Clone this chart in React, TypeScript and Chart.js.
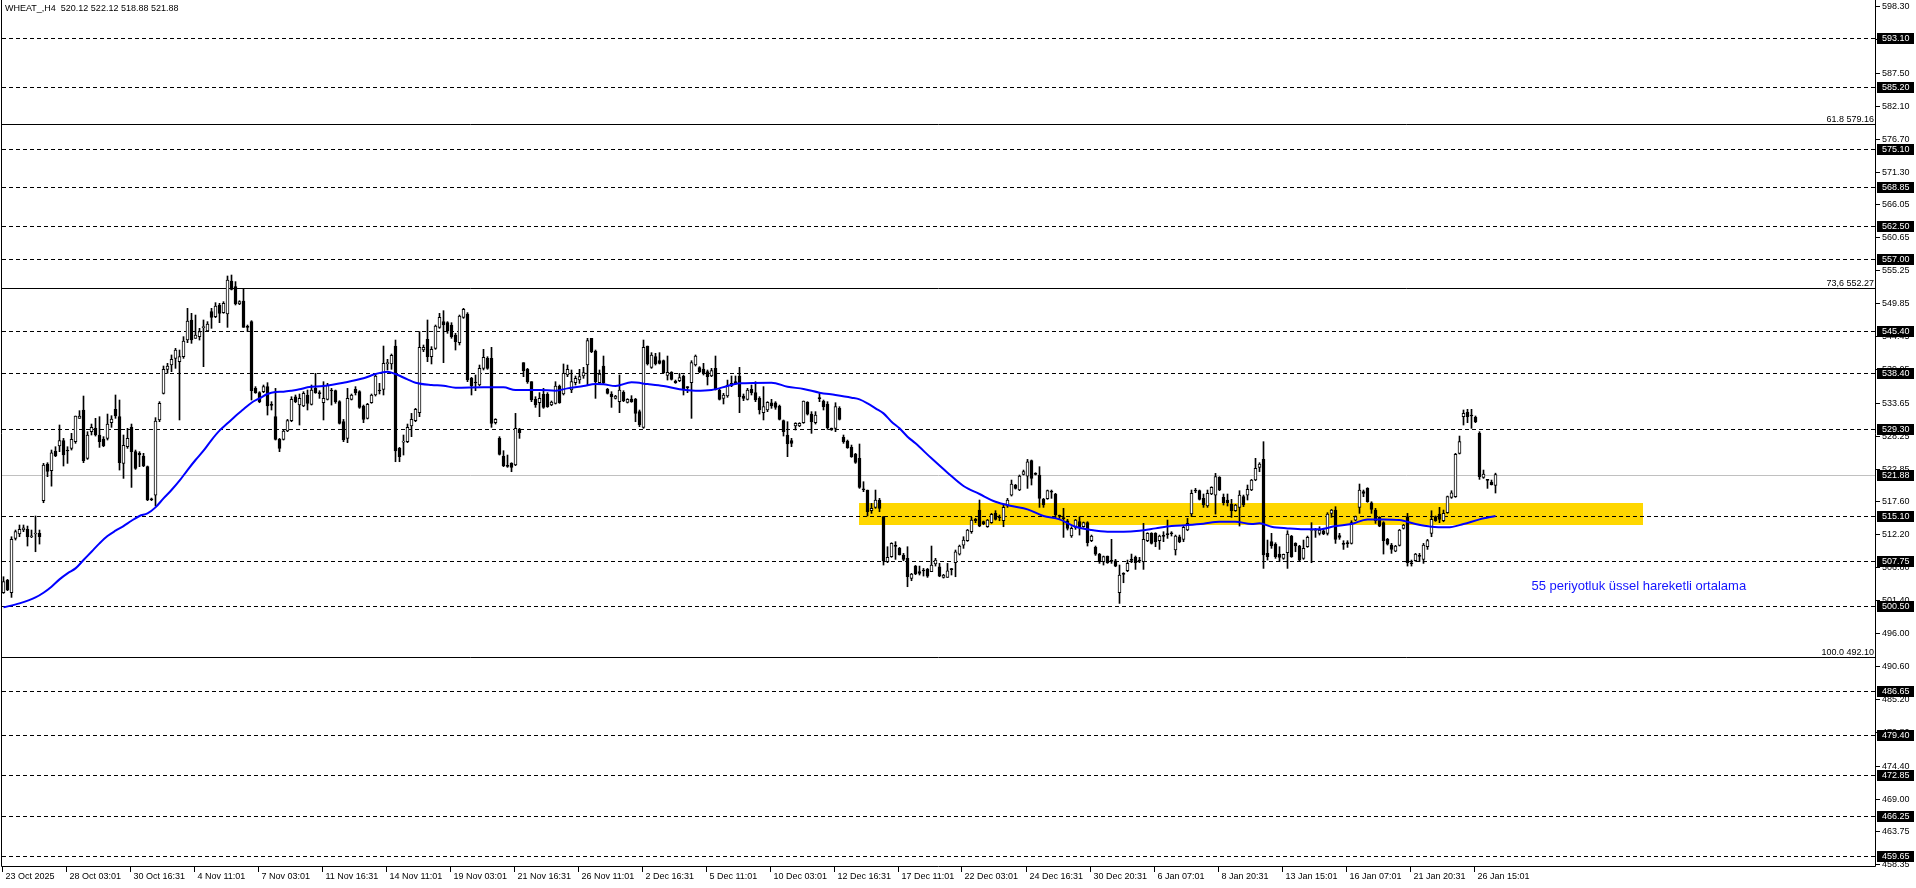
import { useEffect, useRef } from 'react';
import { Chart, registerables } from 'chart.js';

Chart.register(...registerables);

// ---- DATA (H4 candles) ----
const opens = [
  502.61, 504.68, 502.61, 511.48, 512.19, 512.84, 512.95, 511.75, 512.19, 512.30,
  517.63, 523.61, 522.53, 525.74, 526.55, 527.42, 525.79, 526.17, 527.26, 531.07,
  532.43, 524.54, 528.89, 529.44, 528.35, 527.69, 527.80, 530.36, 532.54, 531.34,
  523.72, 526.44, 529.60, 525.63, 525.36, 524.92, 523.18, 517.90, 518.55, 530.80,
  535.15, 539.07, 539.77, 540.86, 540.32, 541.13, 543.85, 547.12, 544.13, 544.40,
  545.87, 545.32, 548.48, 547.66, 549.57, 548.32, 548.10, 553.48, 552.56, 549.73,
  550.22, 545.98, 546.85, 535.96, 535.26, 535.42, 536.24, 533.30, 531.34, 527.64,
  527.64, 529.00, 530.69, 534.60, 533.24, 533.08, 534.88, 533.35, 535.96, 535.20,
  533.62, 534.17, 535.64, 535.58, 533.79, 530.52, 527.80, 534.17, 535.80, 535.42,
  533.08, 531.07, 533.62, 534.88, 535.64, 535.80, 539.99, 539.94, 542.87, 526.17,
  527.20, 527.26, 529.82, 530.69, 531.99, 542.22, 543.96, 541.13, 542.49, 545.92,
  546.85, 546.68, 546.30, 544.67, 543.42, 547.55, 548.10, 537.60, 536.94, 536.51,
  539.23, 540.86, 540.86, 530.36, 527.80, 524.92, 523.34, 523.72, 523.45, 529.27,
  540.15, 539.07, 537.05, 534.17, 533.62, 534.99, 534.99, 533.24, 533.52, 536.35,
  535.04, 538.14, 535.69, 536.89, 537.32, 537.98, 539.77, 544.13, 542.06, 536.89,
  539.61, 535.80, 535.04, 534.33, 533.79, 535.31, 533.68, 534.22, 534.22, 532.16,
  529.60, 542.87, 539.39, 541.13, 540.48, 540.48, 538.09, 538.58, 537.16, 537.22,
  537.98, 536.18, 536.89, 539.77, 539.34, 539.12, 538.69, 537.98, 539.23, 535.69,
  534.33, 534.71, 536.35, 537.05, 537.98, 534.71, 534.17, 535.80, 535.26, 534.33,
  531.99, 532.43, 533.62, 533.62, 533.08, 530.69, 528.35, 527.42, 529.82, 529.82,
  530.36, 533.68, 531.77, 530.36, 534.39, 533.90, 533.41, 529.44, 529.44, 532.70,
  527.96, 527.37, 526.33, 525.25, 524.54, 519.53, 519.37, 516.00, 516.54, 517.74,
  515.02, 507.67, 508.49, 510.28, 509.85, 508.76, 508.22, 504.95, 506.96, 506.04,
  506.26, 506.42, 506.04, 507.29, 506.85, 505.11, 505.11, 506.47, 507.51, 508.92,
  510.39, 511.10, 512.57, 514.58, 516.10, 514.20, 513.38, 514.04, 515.56, 514.96,
  514.36, 516.76, 518.55, 520.19, 519.37, 521.93, 521.65, 524.16, 522.04, 521.82,
  517.85, 517.96, 519.15, 518.72, 515.18, 514.80, 514.36, 511.86, 513.28, 514.20,
  513.38, 514.04, 511.10, 510.01, 508.92, 507.67, 508.60, 507.83, 507.83, 502.61,
  505.71, 506.20, 507.99, 508.38, 507.89, 507.67, 511.10, 512.30, 512.30, 511.10,
  511.92, 512.19, 512.35, 509.58, 511.75, 511.32, 512.84, 515.45, 519.31, 519.26,
  518.01, 516.76, 518.72, 518.55, 521.44, 518.17, 517.74, 517.08, 515.99, 516.54,
  518.28, 518.55, 519.37, 521.00, 523.07, 524.37, 509.03, 510.94, 510.55, 508.92,
  508.22, 509.14, 511.86, 510.66, 510.23, 508.22, 510.12, 512.79, 512.79, 512.30,
  512.73, 512.30, 515.56, 516.10, 511.92, 510.61, 510.72, 510.66, 514.47, 516.54,
  519.10, 519.64, 517.30, 516.10, 514.91, 514.04, 511.32, 510.39, 509.41, 510.34,
  513.11, 515.02, 507.45, 507.83, 508.65, 508.05, 510.12, 512.30, 515.02, 515.45,
  514.36, 515.67, 518.17, 518.28, 525.36, 531.34, 532.05, 531.56, 531.23, 528.62,
  521.44, 521.06, 520.67, 520.12,
];

const highs = [
  505.22, 504.79, 511.75, 512.84, 513.66, 513.66, 513.49, 512.84, 515.13, 512.84,
  523.72, 523.83, 525.90, 526.44, 529.98, 527.80, 526.44, 528.62, 531.45, 532.32,
  534.71, 528.89, 530.14, 531.07, 531.34, 528.08, 531.77, 531.50, 534.88, 534.06,
  528.35, 529.44, 530.14, 525.90, 525.63, 525.36, 523.29, 518.06, 531.18, 533.79,
  539.61, 540.05, 541.41, 542.49, 542.22, 544.40, 549.02, 548.21, 547.93, 545.76,
  547.12, 546.85, 549.02, 549.95, 549.84, 550.11, 554.30, 554.46, 553.38, 550.27,
  552.29, 546.30, 547.01, 536.24, 535.42, 536.51, 536.89, 533.79, 535.96, 527.80,
  529.16, 530.90, 534.60, 534.88, 535.04, 535.42, 535.69, 536.51, 538.41, 535.58,
  537.05, 536.78, 535.96, 535.69, 533.95, 530.90, 535.96, 535.04, 536.24, 535.58,
  533.24, 533.52, 535.04, 538.30, 536.78, 542.87, 540.70, 541.57, 543.85, 526.33,
  528.35, 530.14, 531.88, 532.70, 545.21, 543.04, 547.12, 542.77, 546.30, 548.21,
  548.64, 546.85, 546.68, 544.94, 547.93, 549.02, 548.32, 537.76, 538.14, 539.77,
  542.33, 541.13, 542.66, 531.01, 528.08, 525.79, 525.08, 523.83, 531.88, 529.44,
  540.15, 539.23, 537.05, 534.60, 535.26, 535.96, 535.26, 533.90, 537.05, 536.51,
  539.94, 539.77, 538.96, 537.98, 539.07, 539.39, 544.13, 544.13, 542.22, 538.96,
  541.24, 535.96, 535.42, 534.82, 538.14, 535.58, 534.28, 534.77, 534.33, 532.43,
  543.85, 542.87, 541.79, 541.68, 541.79, 540.59, 541.24, 538.69, 537.32, 538.41,
  538.14, 536.24, 540.48, 541.41, 539.50, 540.05, 538.96, 539.23, 541.24, 535.80,
  535.15, 537.32, 537.98, 537.98, 539.39, 535.04, 535.96, 536.51, 537.05, 534.60,
  536.24, 533.79, 534.17, 533.79, 533.24, 530.80, 530.52, 527.80, 530.36, 530.36,
  533.90, 533.79, 532.16, 532.16, 535.15, 534.06, 533.79, 529.49, 533.62, 532.97,
  528.35, 527.53, 526.71, 525.36, 526.88, 520.73, 519.37, 517.19, 519.37, 518.01,
  515.02, 510.12, 510.77, 510.94, 510.01, 509.03, 510.12, 505.77, 507.07, 506.96,
  506.58, 506.58, 510.23, 508.22, 507.40, 505.61, 507.40, 506.58, 509.58, 510.39,
  511.75, 512.95, 514.91, 514.74, 517.74, 514.31, 514.58, 515.56, 516.00, 515.29,
  516.92, 518.01, 521.00, 520.29, 521.82, 522.63, 524.37, 524.27, 522.20, 523.18,
  518.01, 519.37, 519.37, 518.83, 515.29, 516.38, 514.58, 513.38, 514.58, 515.02,
  514.15, 514.20, 512.02, 510.23, 509.03, 508.60, 508.60, 511.32, 508.05, 507.13,
  505.88, 507.94, 508.92, 508.60, 508.38, 513.93, 512.41, 512.41, 512.41, 512.02,
  512.57, 514.47, 512.57, 512.02, 512.02, 513.49, 514.74, 519.37, 519.64, 519.37,
  518.72, 519.37, 519.91, 522.09, 521.55, 518.72, 518.72, 517.85, 517.03, 519.26,
  518.55, 520.19, 521.11, 524.54, 523.83, 527.26, 511.21, 512.30, 510.77, 510.12,
  508.92, 512.73, 511.97, 510.77, 510.34, 511.21, 511.86, 514.04, 513.11, 513.38,
  512.84, 515.67, 516.21, 516.65, 512.30, 511.10, 511.10, 514.36, 515.13, 520.35,
  519.37, 519.75, 517.46, 516.38, 515.02, 514.20, 511.48, 510.66, 510.34, 512.95,
  513.77, 515.56, 507.94, 509.03, 509.03, 510.66, 511.32, 515.99, 515.13, 516.54,
  516.10, 518.39, 519.26, 525.36, 528.18, 532.43, 532.54, 532.54, 531.45, 528.89,
  522.63, 521.11, 521.00, 522.12,
];

const lows = [
  502.50, 502.94, 501.85, 511.21, 511.75, 512.57, 510.23, 511.59, 509.30, 510.55,
  517.30, 521.55, 520.00, 524.81, 525.63, 523.29, 523.72, 525.90, 526.99, 531.07,
  523.83, 524.37, 528.35, 528.18, 526.33, 526.44, 527.53, 529.60, 531.07, 522.63,
  521.27, 526.17, 519.80, 522.74, 523.18, 523.18, 517.63, 517.63, 516.76, 530.52,
  535.04, 538.41, 538.69, 539.23, 530.80, 540.86, 543.42, 543.31, 544.13, 543.85,
  539.50, 545.21, 545.76, 547.50, 546.68, 548.21, 545.92, 552.02, 549.57, 549.62,
  545.92, 545.21, 534.06, 535.15, 533.62, 535.26, 531.61, 532.43, 527.53, 525.63,
  527.53, 528.89, 530.52, 533.62, 529.98, 532.97, 532.43, 533.24, 535.15, 534.33,
  530.80, 534.06, 533.24, 533.52, 530.14, 527.26, 527.10, 534.06, 534.88, 532.70,
  530.36, 530.96, 533.52, 534.71, 535.04, 534.88, 538.96, 539.07, 523.99, 523.99,
  525.08, 527.10, 528.08, 530.52, 531.34, 541.95, 540.32, 539.94, 542.33, 545.76,
  540.15, 544.94, 544.13, 542.22, 543.04, 547.39, 537.05, 534.88, 535.58, 536.35,
  538.96, 539.07, 529.60, 530.14, 525.08, 523.18, 523.07, 522.36, 523.34, 527.80,
  537.87, 536.78, 533.79, 532.86, 531.34, 532.70, 532.86, 533.13, 533.41, 533.52,
  534.88, 537.87, 535.26, 536.51, 536.78, 537.60, 536.51, 541.79, 534.33, 536.78,
  536.67, 535.04, 532.86, 534.22, 531.99, 533.79, 533.57, 533.68, 530.52, 529.71,
  529.44, 539.77, 539.23, 539.77, 539.94, 538.41, 537.32, 537.32, 536.78, 537.05,
  534.88, 535.26, 531.07, 539.61, 538.52, 538.14, 536.51, 537.87, 535.69, 534.06,
  533.41, 534.50, 536.24, 536.56, 531.99, 533.95, 534.06, 534.88, 533.79, 531.77,
  530.80, 532.16, 532.70, 532.54, 530.80, 528.18, 524.81, 526.44, 529.16, 529.71,
  530.25, 531.61, 528.62, 530.14, 533.79, 532.43, 529.27, 529.11, 528.89, 530.80,
  526.99, 526.17, 524.70, 523.72, 519.64, 519.10, 515.13, 515.56, 516.38, 515.83,
  507.13, 507.51, 508.38, 508.05, 508.76, 507.83, 503.59, 504.57, 505.55, 505.50,
  505.33, 505.11, 506.04, 506.96, 505.22, 505.00, 505.11, 505.50, 505.22, 508.76,
  509.85, 510.99, 512.30, 514.04, 513.38, 513.71, 513.28, 513.93, 514.47, 514.36,
  513.38, 516.54, 518.39, 519.53, 519.26, 521.82, 519.64, 520.19, 521.82, 516.54,
  516.54, 517.85, 518.01, 514.74, 514.74, 511.64, 512.84, 511.64, 512.95, 512.02,
  513.28, 510.23, 510.94, 508.70, 507.40, 507.13, 507.40, 507.40, 506.85, 500.87,
  504.24, 506.04, 507.51, 506.42, 507.51, 506.42, 510.94, 510.55, 510.12, 509.68,
  510.94, 511.48, 511.86, 508.76, 510.77, 510.94, 512.73, 515.02, 518.93, 517.74,
  516.54, 516.54, 518.61, 515.45, 519.26, 516.92, 516.76, 514.91, 515.89, 513.49,
  516.65, 517.74, 519.26, 520.89, 522.36, 506.58, 507.94, 509.85, 508.22, 507.67,
  508.05, 506.58, 508.38, 509.30, 507.83, 508.05, 510.01, 507.51, 511.64, 512.02,
  512.08, 512.02, 514.91, 510.66, 511.32, 509.68, 510.01, 510.55, 514.36, 515.56,
  518.28, 517.36, 515.56, 513.93, 513.38, 508.92, 510.39, 509.03, 509.30, 510.23,
  513.00, 506.96, 506.96, 507.73, 507.67, 507.40, 509.68, 511.75, 514.25, 514.04,
  514.20, 515.56, 518.01, 518.17, 525.25, 529.98, 530.36, 529.44, 530.36, 521.11,
  521.27, 519.64, 520.19, 518.88,
];

const closes = [
  504.41, 503.05, 511.32, 512.57, 512.95, 513.22, 511.75, 511.86, 512.35, 511.75,
  523.45, 522.42, 525.46, 524.92, 527.42, 525.08, 525.74, 527.64, 531.45, 531.45,
  524.16, 528.35, 529.60, 528.35, 527.26, 526.61, 530.14, 530.96, 531.45, 523.83,
  526.66, 527.80, 525.63, 522.91, 525.08, 523.29, 517.74, 517.79, 530.63, 533.52,
  539.07, 539.61, 540.70, 542.22, 541.13, 543.69, 546.96, 543.85, 544.67, 545.21,
  545.92, 546.47, 547.55, 549.40, 548.21, 549.84, 553.65, 552.12, 549.73, 550.11,
  545.92, 545.92, 535.58, 535.26, 533.79, 536.24, 533.08, 533.19, 527.64, 526.17,
  529.00, 530.69, 534.17, 533.79, 534.33, 535.15, 533.52, 535.69, 535.26, 535.09,
  534.33, 536.51, 535.53, 533.79, 530.25, 527.53, 534.33, 534.88, 535.26, 532.86,
  530.90, 533.35, 534.88, 537.98, 535.53, 540.05, 540.10, 541.35, 525.74, 524.81,
  527.31, 529.60, 530.90, 532.54, 542.66, 542.66, 541.13, 542.33, 546.14, 547.55,
  546.30, 545.38, 544.40, 543.58, 547.77, 548.86, 537.32, 536.35, 536.83, 539.23,
  541.02, 539.23, 530.25, 530.90, 525.19, 523.34, 523.23, 523.07, 529.44, 528.73,
  538.85, 537.05, 534.06, 533.24, 534.33, 532.86, 532.97, 533.73, 536.35, 533.62,
  538.41, 539.07, 537.05, 537.60, 537.87, 538.52, 543.75, 541.95, 537.05, 538.30,
  536.89, 535.15, 534.60, 534.71, 535.69, 533.95, 534.17, 533.79, 531.88, 529.98,
  542.66, 539.94, 541.41, 539.94, 540.05, 538.52, 538.58, 537.43, 536.89, 537.71,
  535.69, 536.07, 540.15, 541.24, 538.69, 538.41, 537.87, 538.85, 535.80, 534.17,
  534.88, 536.51, 536.78, 536.67, 534.60, 534.33, 535.69, 535.26, 534.06, 532.43,
  532.97, 533.68, 533.08, 532.86, 530.90, 528.89, 526.88, 526.99, 530.25, 530.25,
  533.90, 531.77, 530.52, 531.61, 534.28, 532.97, 529.54, 529.16, 532.97, 530.90,
  527.26, 526.28, 524.81, 523.89, 519.80, 519.42, 515.83, 516.38, 517.74, 516.38,
  507.83, 508.38, 510.66, 510.17, 508.76, 508.05, 505.22, 505.66, 505.66, 505.77,
  506.15, 505.33, 507.13, 507.94, 505.33, 505.50, 506.20, 506.37, 509.30, 510.23,
  511.21, 512.84, 514.47, 514.36, 513.49, 513.82, 514.47, 515.40, 514.58, 514.85,
  516.54, 517.74, 520.35, 519.64, 521.65, 522.36, 523.99, 521.27, 521.93, 518.01,
  516.92, 519.26, 519.04, 515.29, 515.07, 514.69, 513.11, 513.11, 514.47, 513.28,
  514.04, 510.77, 511.86, 508.92, 507.67, 508.49, 507.51, 507.73, 506.96, 505.50,
  505.61, 507.40, 507.89, 507.51, 507.78, 511.32, 512.30, 510.66, 510.94, 511.86,
  511.81, 512.08, 512.24, 511.86, 510.94, 513.28, 513.93, 518.83, 519.21, 517.85,
  516.92, 518.83, 519.80, 521.55, 519.37, 517.30, 517.30, 515.99, 516.92, 518.55,
  516.92, 519.48, 521.00, 522.91, 523.61, 508.76, 508.49, 510.23, 508.49, 508.38,
  508.87, 512.19, 508.49, 510.23, 507.94, 509.85, 511.64, 512.89, 512.89, 512.84,
  512.19, 515.45, 516.10, 511.32, 511.64, 510.50, 510.61, 514.04, 515.02, 519.37,
  518.83, 517.46, 516.21, 514.36, 513.49, 511.10, 510.55, 509.68, 510.23, 512.84,
  513.66, 507.51, 507.34, 508.92, 508.54, 510.39, 511.10, 514.58, 514.36, 514.58,
  515.56, 518.28, 518.93, 525.19, 527.26, 531.88, 531.34, 531.45, 530.52, 521.55,
  521.98, 520.95, 520.24, 521.88,
];

// 55-period EMA at these bars
const emaBars = [
  0, 4, 8, 10, 12, 14, 16, 18, 20, 22, 24, 26, 28, 30, 32, 34, 36, 38, 40, 42,
  44, 46, 48, 50, 52, 54, 56, 58, 60, 62, 64, 66, 68, 70, 72, 74, 76, 80, 85, 90,
  93, 96, 98, 101, 103, 107, 110, 113, 120, 125, 128, 134, 138, 141, 145, 148, 150, 153, 157, 161,
  165, 169, 173, 177, 181, 184, 192, 196, 200, 204, 208, 212, 214, 216, 218, 220, 222, 224, 226, 228,
  232, 236, 240, 244, 248, 252, 256, 260, 264, 268, 272, 276, 280, 284, 288, 292, 296, 300, 304, 308,
  312, 314, 317, 321, 325, 329, 333, 337, 341, 345, 349, 353, 357, 361, 365, 369, 373,
];
const emaValues = [
  500.22, 500.87, 501.85, 502.61, 503.59, 504.79, 505.77, 506.58, 507.94, 509.30, 510.66, 511.86, 512.73, 513.49, 514.36, 515.13, 515.56, 516.54, 518.01, 519.37,
  520.89, 522.63, 524.27, 525.79, 527.53, 529.06, 530.25, 531.45, 532.54, 533.62, 534.33, 535.04, 535.36, 535.42, 535.58, 535.80, 536.13, 536.35, 536.89, 537.60,
  538.30, 538.69, 538.30, 537.43, 536.89, 536.51, 536.40, 536.07, 536.13, 536.13, 535.69, 535.69, 535.58, 535.96, 536.35, 536.67, 536.62, 536.35, 536.94, 536.67,
  536.35, 535.80, 535.58, 535.69, 536.35, 536.78, 536.89, 536.24, 535.86, 535.26, 534.88, 534.44, 534.17, 533.52, 532.70, 531.88, 530.52, 529.44, 528.08, 526.99,
  524.54, 522.20, 520.02, 518.72, 517.46, 516.76, 516.21, 515.13, 514.58, 513.38, 512.84, 512.57, 512.57, 512.73, 513.11, 513.49, 513.66, 513.88, 514.20, 514.20,
  513.82, 513.93, 513.38, 513.11, 512.95, 512.95, 513.49, 513.82, 514.58, 514.58, 514.47, 513.82, 513.38, 513.28, 513.82, 514.58, 515.13,
];

const xTickBars = [0, 16, 32, 48, 64, 80, 96, 112, 128, 144, 160, 176, 192, 208, 224, 240, 256, 272, 288, 304, 320, 336, 352, 368];
const xTickLabels = [
  '23 Oct 2025', '28 Oct 03:01', '30 Oct 16:31', '4 Nov 11:01', '7 Nov 03:01', '11 Nov 16:31',
  '14 Nov 11:01', '19 Nov 03:01', '21 Nov 16:31', '26 Nov 11:01', '2 Dec 16:31', '5 Dec 11:01',
  '10 Dec 03:01', '12 Dec 16:31', '17 Dec 11:01', '22 Dec 03:01', '24 Dec 16:31', '30 Dec 20:31',
  '6 Jan 07:01', '8 Jan 20:31', '13 Jan 15:01', '16 Jan 07:01', '21 Jan 20:31', '26 Jan 15:01',
];

const yTickValues = [
  598.30, 592.90, 587.50, 582.10, 576.70, 571.30, 566.05, 560.65, 555.25, 549.85, 544.45, 539.05,
  533.65, 528.25, 522.85, 517.60, 512.20, 506.80, 501.40, 496.00, 490.60, 485.20, 479.80, 474.40,
  469.00, 463.75, 458.35,
];

const levelLines = [
  593.10, 585.20, 575.10, 568.85, 562.50, 557.00, 545.40, 538.40, 529.30, 515.10, 507.75, 500.50,
  486.65, 479.40, 472.85, 466.25, 459.65,
];

const fibLevels = [579.16, 552.27, 492.10];
const fibLabels = ['61.8 579.16', '73,6 552.27', '100.0 492.10'];

const currentPrice = 521.88;

const zoneFromBar = 213.9;
const zoneToBar = 409.9;
const zoneLow = 513.66;
const zoneHigh = 517.25;

const noteBar = 382;
const notePrice = 503.7;
const noteText = '55 periyotluk üssel hareketli ortalama';
const titleText = 'WHEAT_,H4  520.12 522.12 518.88 521.88';

const Y_MIN = 458.01;
const Y_MAX = 599.18;
const X_MIN = -0.375;
const X_MAX = 467.875;

const AXIS_FONT = '9px "Liberation Sans", Arial, sans-serif';

const overlayPlugin = {
  id: 'mt4overlay',
  beforeDatasetsDraw(chart: any) {
    const { ctx, chartArea } = chart;
    const xs = chart.scales.x;
    const ys = chart.scales.y;
    ctx.save();
    ctx.beginPath();
    ctx.rect(chartArea.left, chartArea.top, chartArea.right - chartArea.left, chartArea.bottom - chartArea.top);
    ctx.clip();
    // yellow zone
    const zx1 = xs.getPixelForValue(zoneFromBar);
    const zx2 = xs.getPixelForValue(zoneToBar);
    const zy1 = ys.getPixelForValue(zoneHigh);
    const zy2 = ys.getPixelForValue(zoneLow);
    ctx.fillStyle = '#ffd700';
    ctx.fillRect(Math.round(zx1), Math.round(zy1), Math.round(zx2 - zx1), Math.round(zy2 - zy1));
    // current price line
    ctx.strokeStyle = '#c0c0c0';
    ctx.lineWidth = 1;
    let y = Math.round(ys.getPixelForValue(currentPrice)) + 0.5;
    ctx.beginPath();
    ctx.moveTo(chartArea.left, y);
    ctx.lineTo(chartArea.right, y);
    ctx.stroke();
    // dashed levels
    ctx.strokeStyle = '#000';
    ctx.setLineDash([4, 3]);
    for (const v of levelLines) {
      y = Math.round(ys.getPixelForValue(v)) + 0.5;
      ctx.beginPath();
      ctx.moveTo(chartArea.left, y);
      ctx.lineTo(chartArea.right, y);
      ctx.stroke();
    }
    ctx.setLineDash([]);
    // fib lines
    for (const v of fibLevels) {
      y = Math.round(ys.getPixelForValue(v)) + 0.5;
      ctx.beginPath();
      ctx.moveTo(chartArea.left, y);
      ctx.lineTo(chartArea.right, y);
      ctx.stroke();
    }
    ctx.restore();
  },
  afterDraw(chart: any) {
    const { ctx, chartArea } = chart;
    const xs = chart.scales.x;
    const ys = chart.scales.y;
    ctx.save();
    // fib labels
    ctx.font = AXIS_FONT;
    ctx.fillStyle = '#000';
    ctx.textAlign = 'right';
    ctx.textBaseline = 'alphabetic';
    fibLevels.forEach((v, i) => {
      const y = Math.round(ys.getPixelForValue(v));
      ctx.fillText(fibLabels[i], chartArea.right - 1, y - 2);
    });
    // note text
    ctx.font = '13px "Liberation Sans", Arial, sans-serif';
    ctx.fillStyle = '#1414ff';
    ctx.textAlign = 'left';
    ctx.textBaseline = 'middle';
    ctx.fillText(noteText, xs.getPixelForValue(noteBar), ys.getPixelForValue(notePrice));
    // title
    ctx.font = AXIS_FONT;
    ctx.fillStyle = '#000';
    ctx.fillText(titleText, 5, 9);
    // frame
    ctx.strokeStyle = '#000';
    ctx.lineWidth = 1;
    ctx.beginPath();
    ctx.moveTo(1.5, 0);
    ctx.lineTo(1.5, chartArea.bottom + 0.5);
    ctx.lineTo(chartArea.right + 0.5, chartArea.bottom + 0.5);
    ctx.lineTo(chartArea.right + 0.5, 0);
    ctx.stroke();
    // x ticks
    ctx.textAlign = 'left';
    ctx.textBaseline = 'middle';
    xTickBars.forEach((b, i) => {
      const x = Math.round(xs.getPixelForValue(b) - 2) + 0.5;
      ctx.beginPath();
      ctx.moveTo(x, chartArea.bottom + 1);
      ctx.lineTo(x, chartArea.bottom + 6);
      ctx.stroke();
      ctx.fillText(xTickLabels[i], x + 3, chartArea.bottom + 11);
    });
    // y ticks
    const ax = chartArea.right + 1;
    yTickValues.forEach((v) => {
      const y = Math.round(ys.getPixelForValue(v)) + 0.5;
      ctx.beginPath();
      ctx.moveTo(ax, y);
      ctx.lineTo(ax + 4, y);
      ctx.stroke();
      ctx.fillStyle = '#000';
      ctx.fillText(v.toFixed(2), ax + 6, y);
    });
    // highlighted price boxes
    const boxes = [...levelLines, currentPrice];
    boxes.forEach((v) => {
      const y = Math.round(ys.getPixelForValue(v));
      ctx.fillStyle = '#000';
      ctx.fillRect(ax + 1, y - 5, 37, 11);
      ctx.fillStyle = '#fff';
      ctx.fillText(v.toFixed(2), ax + 6, y + 0.5);
    });
    ctx.restore();
  },
};

export default function App() {
  const canvasRef = useRef<HTMLCanvasElement | null>(null);

  useEffect(() => {
    document.body.style.margin = '0';
    const canvas = canvasRef.current;
    if (!canvas) return;

    const bodyData = opens.map((o, i) => ({ x: i, y: [o, closes[i]] }));
    const wickData = opens.map((_, i) => ({ x: i, y: [lows[i], highs[i]] }));
    const bodyColors = opens.map((o, i) => (closes[i] >= o ? '#ffffff' : '#000000'));
    const emaData = emaBars.map((b, i) => ({ x: b, y: emaValues[i] }));

    const chart = new Chart(canvas, {
      type: 'bar',
      data: {
        datasets: [
          {
            type: 'line',
            data: emaData as any,
            borderColor: '#0000ff',
            borderWidth: 2,
            pointRadius: 0,
            fill: false,
            cubicInterpolationMode: 'monotone',
          } as any,
          {
            type: 'bar',
            data: bodyData as any,
            backgroundColor: bodyColors,
            borderColor: '#000000',
            borderWidth: 1,
            borderSkipped: false,
            barThickness: 3,
            grouped: false,
            minBarLength: 1,
          } as any,
          {
            type: 'bar',
            data: wickData as any,
            backgroundColor: '#000000',
            borderWidth: 0,
            barThickness: 1,
            grouped: false,
          } as any,
        ],
      },
      options: {
        responsive: false,
        animation: false,
        devicePixelRatio: 1,
        layout: { padding: { left: 2, top: 1, right: 41, bottom: 22 } },
        scales: {
          x: { type: 'linear', min: X_MIN, max: X_MAX, display: false, offset: false },
          y: { type: 'linear', min: Y_MIN, max: Y_MAX, display: false },
        },
        plugins: { legend: { display: false }, tooltip: { enabled: false } },
      } as any,
      plugins: [overlayPlugin],
    });
    return () => chart.destroy();
  }, []);

  return (
    <div style={{ width: 1916, height: 888, background: '#fff' }}>
      <canvas ref={canvasRef} width={1916} height={888} style={{ display: 'block', width: 1916, height: 888 }} />
    </div>
  );
}
